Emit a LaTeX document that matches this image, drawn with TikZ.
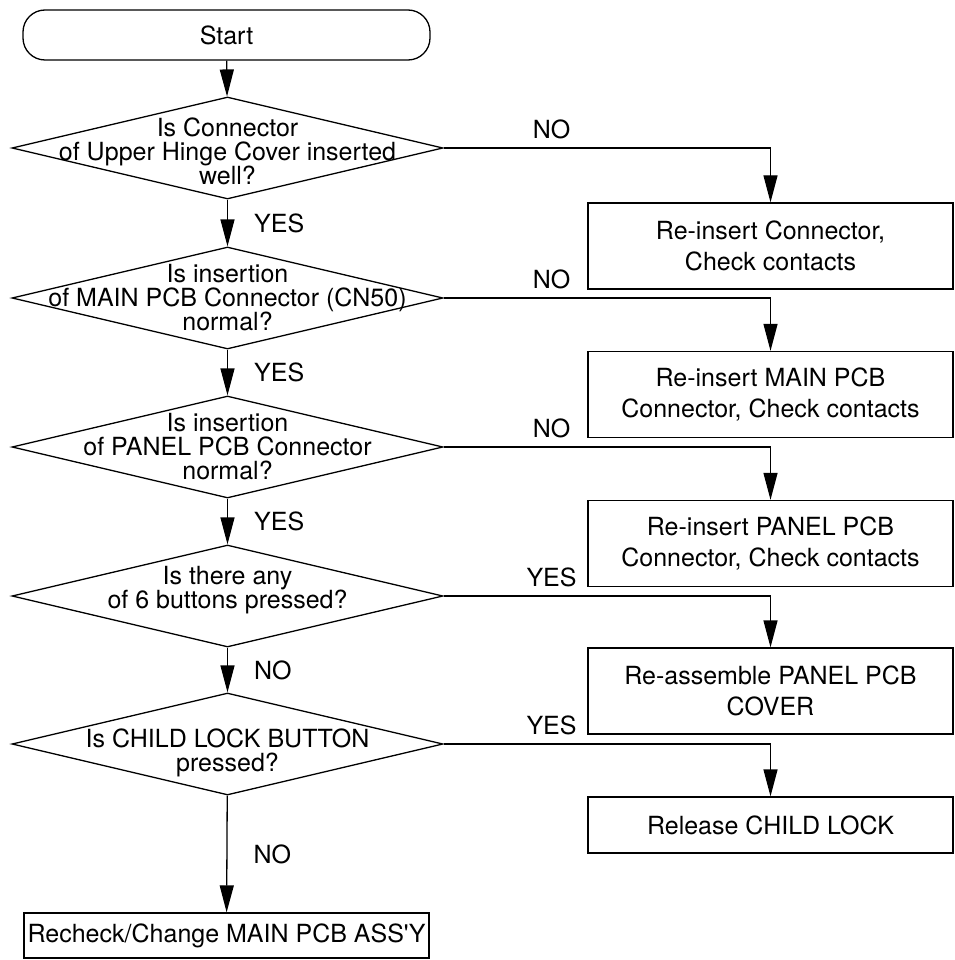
\documentclass[tikz,border=0pt]{standalone}
\usepackage{fontspec}
\setmainfont{TeX Gyre Heros}
\usetikzlibrary{arrows.meta}
\usetikzlibrary{shapes.geometric,positioning}

\begin{document}
\begin{tikzpicture}[>={Triangle[length=27pt,width=14pt]}, x=1pt, y=-1pt, line width=1.3pt,
        every node/.style={font=\fontsize{25}{24}\selectfont},
        ask/.style={draw, diamond, inner sep=0pt, minimum width=431pt, minimum height=102pt},
        act/.style={draw, rectangle, align=center, minimum width=365pt, minimum height=86pt,
                    font=\fontsize{25}{31}\selectfont},
        ans/.style={inner sep=0pt}]
        \useasboundingbox (0,0) rectangle (954,960);

        \path 
        (226.5,35) coordinate (s)
        (227.5,148) coordinate (q1)
        (227.5,298) coordinate (q2)
        (227.5,447) coordinate (q3)
        (227.5,596) coordinate (q4)
        (227.5,744) coordinate (q5)
        ;

        % start and questions
        \node[draw, rounded corners=22pt, minimum width=407pt, minimum height=50pt] (start) at (s) {Start};
        \node[ask] (d1) at (q1) {};
        \node[ask] (d2) at (q2) {};
        \node[ask] (d3) at (q3) {};
        \node[ask] (d4) at (q4) {};
        \node[ask] (d5) at (q5) {};
        \node[align=center, yshift=-3pt] (t1) at (d1.center) {Is Connector\\of Upper Hinge Cover inserted\\well?};
        \node[align=center] (t2) at (d2.center) {Is insertion\\of MAIN PCB Connector (CN50)\\normal?};
        \node[align=center] (t3) at (d3.center) {Is insertion\\of PANEL PCB Connector\\normal?};
        \node[align=center, yshift=6pt] (t4) at (d4.center) {Is there any\\of 6 buttons pressed?};
        \node[align=center, yshift=-9pt] (t5) at (d5.center) {Is CHILD LOCK BUTTON\\pressed?};

        % actions
        \node[act] (b1) at (770.5,246) {Re-insert Connector,\\Check contacts};
        \node[act] (b2) at (770.5,394.5) {Re-insert MAIN PCB\\Connector, Check contacts};
        \node[act] (b3) at (770.5,543.5) {Re-insert PANEL PCB\\Connector, Check contacts};
        \node[act] (b4) at (770.5,691) {Re-assemble PANEL PCB\\COVER};
        \node[act, minimum height=56pt] (b5) at (770.5,825) {Release CHILD LOCK};
        \node[draw, minimum width=405pt, minimum height=45pt] (last) at (226.5,935.5) {Recheck/Change MAIN PCB ASS\textquotesingle Y};

        % down the left
        \draw[->] (start) -- (d1);
        \draw[->] (d1) -- node[ans, right=26pt] (y1) {YES} (d2);
        \draw[->] (d2) -- node[ans, right=26pt] (y2) {YES} (d3);
        \draw[->] (d3) -- node[ans, right=26pt] (y3) {YES} (d4);
        \draw[->] (d4) -- node[ans, right=26pt] (n4) {NO} (d5);
        \draw[->] (d5) -- node[ans, right=26pt] (n5) {NO} (last);

        % out to the right
        \draw[->] (d1.east) -| node[ans, pos=0.165, above=8pt] (n1) {NO} (b1.north);
        \draw[->] (d2.east) -| node[ans, pos=0.165, above=8pt] (n2) {NO} (b2.north);
        \draw[->] (d3.east) -| node[ans, pos=0.165, above=8pt] (n3) {NO} (b3.north);
        \draw[->] (d4.east) -| node[ans, pos=0.165, above=8pt] (y4) {YES} (b4.north);
        \draw[->] (d5.east) -| node[ans, pos=0.165, above=8pt] (y5) {YES} (b5.north);
\end{tikzpicture}
\end{document}
